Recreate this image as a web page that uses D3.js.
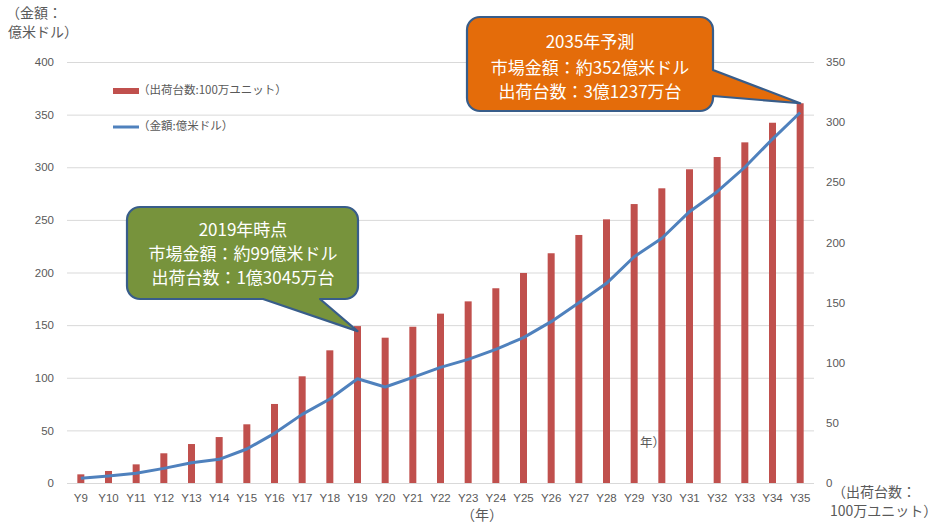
<!DOCTYPE html>
<html><head><meta charset="utf-8">
<script src="https://cdn.jsdelivr.net/npm/d3@7"></script>
<style>
body{margin:0;background:#fff;}
svg{display:block;font-family:"Noto Sans CJK JP","Noto Sans",sans-serif;}
</style></head>
<body><svg id="c" width="936" height="524"></svg>
<script>
const categories = ["Y9","Y10","Y11","Y12","Y13","Y14","Y15","Y16","Y17","Y18","Y19","Y20","Y21","Y22","Y23","Y24","Y25","Y26","Y27","Y28","Y29","Y30","Y31","Y32","Y33","Y34","Y35"];
// 出荷台数 (100万ユニット) - right axis
const shipments = [7.2,10,15.5,24.7,32.4,38.2,48.8,65.7,88.7,110.3,130.45,120.8,129.9,140.8,151,161.9,174.6,191,206.2,219.2,231.9,245,260.8,271,283.2,299.5,315.7];
// 金額 (億米ドル) - left axis
const marketValue = [4.4,6.6,9.2,13.9,19.3,22.5,32.3,47.2,65.2,79.8,99,91.2,100.4,109.9,117.5,127,138.1,153.3,171.3,189.7,215,232.5,257.8,276.8,300,326.8,352];
const leftTicks = [0,50,100,150,200,250,300,350,400];
const rightTicks = [0,50,100,150,200,250,300,350];
const legendLabels = ["（出荷台数:100万ユニット）","（金額:億米ドル）"];
const callout2019 = ["2019年時点","市場金額：約99億米ドル","出荷台数：1億3045万台"];
const callout2035 = ["2035年予測","市場金額：約352億米ドル","出荷台数：3億1237万台"];

const svg = d3.select("#c");
const L = 67, R = 814, T = 62, B = 483;
const x = d3.scaleBand().domain(categories).range([L, R]).paddingInner(0.747).paddingOuter(0.3735);
const yL = d3.scaleLinear().domain([0,400]).range([B,T]);
const yR = d3.scaleLinear().domain([0,350]).range([B,T]);
const axisColor = "#595959";

// gridlines
const grid = svg.append("g").attr("transform",`translate(${L},0)`)
  .call(d3.axisLeft(yL).tickValues(leftTicks).tickSize(-(R-L)).tickFormat(""));
grid.select(".domain").remove();
grid.selectAll("line").attr("stroke","#d9d9d9").attr("stroke-width",1);

// left axis
const gl = svg.append("g").attr("transform",`translate(${L},0)`)
  .call(d3.axisLeft(yL).tickValues(leftTicks).tickSize(0).tickPadding(13));
gl.select(".domain").remove();
gl.selectAll("text").attr("fill",axisColor).style("font-size","11.5px").style("font-family","Liberation Sans, sans-serif");

// right axis
const gr = svg.append("g").attr("transform",`translate(${R},0)`)
  .call(d3.axisRight(yR).tickValues(rightTicks).tickSize(0).tickPadding(12));
gr.select(".domain").remove();
gr.selectAll("text").attr("fill",axisColor).style("font-size","11.5px").style("font-family","Liberation Sans, sans-serif");

// x axis
const gx = svg.append("g").attr("transform",`translate(0,${B})`)
  .call(d3.axisBottom(x).tickSize(0).tickPadding(11));
gx.select(".domain").remove();
gx.selectAll("text").attr("fill",axisColor).style("font-size","11.5px").style("font-family","Liberation Sans, sans-serif");

// bars
svg.append("g").selectAll("rect").data(categories).join("rect")
  .attr("x", d => x(d)).attr("width", x.bandwidth())
  .attr("y", (d,i) => yR(shipments[i])).attr("height", (d,i) => B - yR(shipments[i]))
  .attr("fill","#c0504d");

// line
const line = d3.line().x((d,i) => x(categories[i]) + x.bandwidth()/2).y(d => yL(d));
svg.append("path").datum(marketValue).attr("d", line)
  .attr("fill","none").attr("stroke","#4f81bd").attr("stroke-width",3).attr("stroke-linejoin","round");

// axis titles
const title = (t, xx, yy, size, anchor) => svg.append("text").attr("x",xx).attr("y",yy).attr("fill",axisColor)
  .attr("text-anchor",anchor||"start").attr("dominant-baseline","middle").style("font-size",size+"px").text(t);
title("（金額：", 6, 14, 14);
title("億米ドル）", 8, 33, 14);
title("（出荷台数：", 832, 493, 14);
title("100万ユニット）", 830, 512, 14);
title("（年）", 482, 516, 14, "middle");
title("年）", 640, 444, 12.5);

// legend
svg.append("rect").attr("x",113).attr("y",88).attr("width",26).attr("height",6).attr("fill","#c0504d");
svg.append("line").attr("x1",113).attr("x2",139).attr("y1",127).attr("y2",127).attr("stroke","#4f81bd").attr("stroke-width",3);
title(legendLabels[0], 138, 91, 11.5);
title(legendLabels[1], 138, 127, 11.5);

// callouts
function callout(box, tip, base, fill, lines, cx, ys, vertical){
  const r = 13;
  const {x0,y0,x1,y1} = box;
  let p = d3.path();
  p.moveTo(x0+r,y0);
  p.lineTo(x1-r,y0); p.arcTo(x1,y0,x1,y0+r,r);
  if(vertical==="right"){
    p.lineTo(x1,base[0]); p.lineTo(tip[0],tip[1]); p.lineTo(x1,base[1]);
  }
  p.lineTo(x1,y1-r); p.arcTo(x1,y1,x1-r,y1,r);
  if(vertical==="bottom"){
    p.lineTo(base[1],y1); p.lineTo(tip[0],tip[1]); p.lineTo(base[0],y1);
  }
  p.lineTo(x0+r,y1); p.arcTo(x0,y1,x0,y1-r,r);
  p.lineTo(x0,y0+r); p.arcTo(x0,y0,x0+r,y0,r);
  p.closePath();
  svg.append("path").attr("d",p.toString()).attr("fill",fill).attr("stroke","#385d8a").attr("stroke-width",2.2).attr("stroke-linejoin","round");
  lines.forEach((t,i)=>svg.append("text").attr("x",cx).attr("y",ys[i]).attr("text-anchor","middle")
    .attr("dominant-baseline","middle").attr("fill","#fff").style("font-size","17px").text(t));
}
const tip19 = [x("Y19")+x.bandwidth()/2, yR(shipments[10])+5];
callout({x0:127,y0:207,x1:358,y1:299}, tip19, [263,320], "#77933c", callout2019, 243, [231,255,279], "bottom");
const tip35 = [x("Y35")+x.bandwidth()/2, yR(shipments[26])];
callout({x0:467,y0:17,x1:713,y1:111}, tip35, [70,96], "#e46c0a", callout2035, 590, [43,69,93], "right");
</script></body></html>
